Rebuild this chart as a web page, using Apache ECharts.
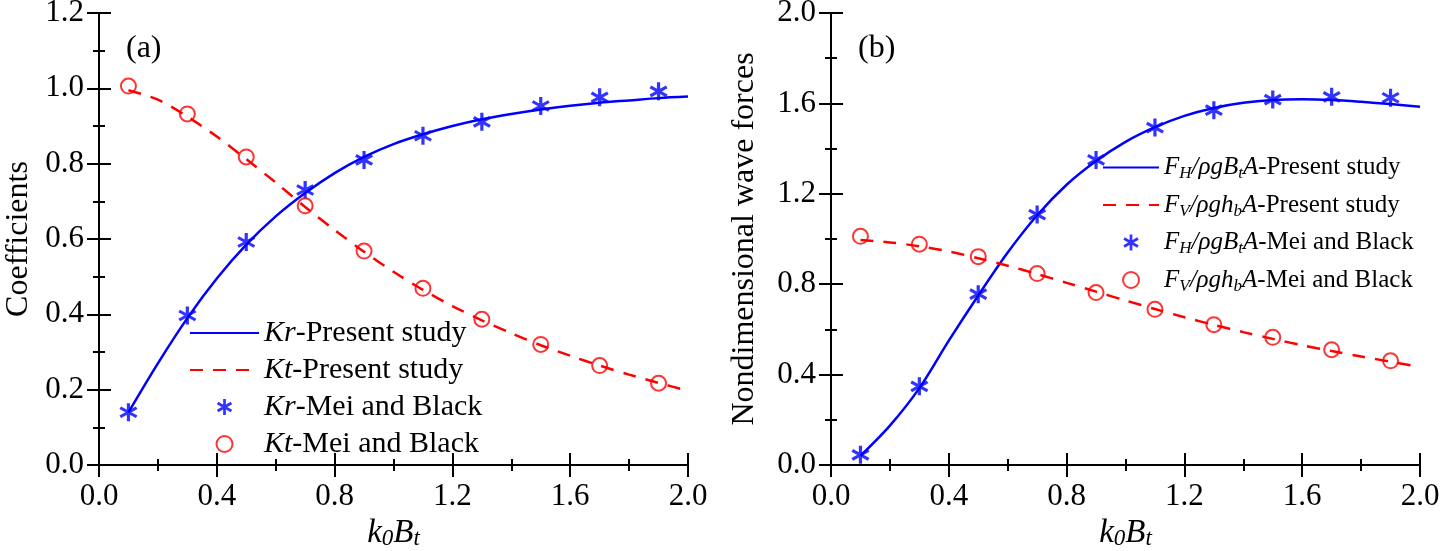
<!DOCTYPE html>
<html>
<head>
<meta charset="utf-8">
<script src="https://cdn.jsdelivr.net/npm/echarts@6/dist/echarts.min.js"></script>
<style>
html,body{margin:0;padding:0;background:#fff;}
#chart{width:1440px;height:551px;}
</style>
</head>
<body>
<div id="chart"></div>
<script>
// ---------- data ----------
const xMarkers = [0.1, 0.3, 0.5, 0.7, 0.9, 1.1, 1.3, 1.5, 1.7, 1.9];
const xCurve = [0.1, 0.2, 0.3, 0.4, 0.5, 0.6, 0.7, 0.8, 0.9, 1.0, 1.1, 1.2, 1.3, 1.4, 1.5, 1.6, 1.7, 1.8, 1.9, 2.0];

// (a) coefficients
const krCurve = [0.14, 0.27, 0.39, 0.495, 0.585, 0.66, 0.722, 0.775, 0.818, 0.852, 0.878, 0.9, 0.918, 0.932, 0.944, 0.954, 0.962, 0.968, 0.974, 0.978];
const ktCurve = [0.995, 0.97, 0.925, 0.872, 0.812, 0.75, 0.685, 0.624, 0.566, 0.513, 0.465, 0.422, 0.384, 0.35, 0.318, 0.29, 0.264, 0.24, 0.218, 0.197];
const krMei = [0.14, 0.397, 0.592, 0.73, 0.81, 0.874, 0.911, 0.953, 0.976, 0.992];
const ktMei = [1.006, 0.932, 0.818, 0.688, 0.568, 0.469, 0.387, 0.32, 0.264, 0.217];

// (b) nondimensional wave forces
const fhCurve = [0.04, 0.174, 0.34, 0.55, 0.75, 0.94, 1.105, 1.24, 1.345, 1.43, 1.495, 1.545, 1.58, 1.603, 1.615, 1.618, 1.615, 1.607, 1.597, 1.585];
const fvCurve = [0.996, 0.985, 0.968, 0.945, 0.915, 0.882, 0.845, 0.806, 0.767, 0.728, 0.69, 0.654, 0.62, 0.588, 0.558, 0.53, 0.504, 0.48, 0.457, 0.434];
const fhMei = [0.045, 0.348, 0.756, 1.108, 1.35, 1.493, 1.57, 1.617, 1.629, 1.625];
const fvMei = [1.012, 0.977, 0.922, 0.847, 0.763, 0.689, 0.621, 0.565, 0.51, 0.461];

const legendA = ['Kr-Present study', 'Kt-Present study', 'Kr-Mei and Black', 'Kt-Mei and Black'];
const legendB = ['FH-Present study', 'FV-Present study', 'FH-Mei and Black', 'FV-Mei and Black'];
const legendRichA = {
  'Kr-Present study': '{i|Kr}{n|-Present study}',
  'Kt-Present study': '{i|Kt}{n|-Present study}',
  'Kr-Mei and Black': '{i|Kr}{n|-Mei and Black}',
  'Kt-Mei and Black': '{i|Kt}{n|-Mei and Black}'
};
const legendRichB = {
  'FH-Present study': '{i|F}{s|H}{i|/ρgB}{s|t}{i|A}{n|-Present study}',
  'FV-Present study': '{i|F}{s|V}{i|/ρgh}{s|b}{i|A}{n|-Present study}',
  'FH-Mei and Black': '{i|F}{s|H}{i|/ρgB}{s|t}{i|A}{n|-Mei and Black}',
  'FV-Mei and Black': '{i|F}{s|V}{i|/ρgh}{s|b}{i|A}{n|-Mei and Black}'
};
const yTitleA = 'Coefficients';
const yTitleB = 'Nondimensional wave forces';

// ---------- helpers ----------
const pairs = (xs, ys) => xs.map((x, i) => [x, ys[i]]);
const FONT = '"Liberation Serif", "Times New Roman", serif';
const BLUE = '#0000ff', RED = '#ff0000';
const STAR = 'path://M-1.7,-10L1.7,-10L1.7,10L-1.7,10Z M7.81,-6.47L9.51,-3.53L-7.81,6.47L-9.51,3.53Z M9.51,3.53L7.81,6.47L-9.51,-3.53L-7.81,-6.47Z';

const axisLine = {show: true, lineStyle: {color: '#000', width: 2}};
const majorTick = {show: true, inside: true, length: 12, lineStyle: {color: '#000', width: 2}};
const minorTickStyle = {show: true, inside: true, length: 6, lineStyle: {color: '#000', width: 2}};
const titleRich = {
  i: {fontFamily: FONT, fontStyle: 'italic', fontSize: 33, lineHeight: 34, color: '#000'},
  s: {fontFamily: FONT, fontStyle: 'italic', fontSize: 23, lineHeight: 12, verticalAlign: 'bottom', color: '#000'}
};
const tickFont = {fontFamily: FONT, fontSize: 31, color: '#000'};

function xAxes(g) {
  const base = {type: 'value', gridIndex: g, min: 0, max: 2, splitLine: {show: false}, offset: 0};
  return [
    Object.assign({}, base, {
      interval: 0.4, position: 'bottom', axisLine, axisTick: majorTick,
      axisLabel: Object.assign({margin: 16, formatter: v => v.toFixed(1)}, tickFont),
      name: '{i|k}{s|0}{i|B}{s|t}', nameLocation: 'middle', nameGap: 40,
      nameTextStyle: {rich: titleRich}
    }),
    Object.assign({}, base, {interval: 0.4, position: 'top', axisLine, axisTick: majorTick, axisLabel: {show: false}})
  ];
}
function xMinorAxes(g, step) {
  const base = {type: 'value', gridIndex: g, min: 0, max: 2, interval: step, splitLine: {show: false}, offset: 0,
    axisLine, axisTick: minorTickStyle, axisLabel: {show: false}};
  return [Object.assign({}, base, {position: 'bottom'}), Object.assign({}, base, {position: 'top'})];
}
function yAxes(g, max, interval, title, gap) {
  const base = {type: 'value', gridIndex: g, min: 0, max: max, splitLine: {show: false}, offset: 0};
  return [
    Object.assign({}, base, {
      interval: interval, position: 'left', axisLine, axisTick: majorTick,
      axisLabel: Object.assign({margin: 15, formatter: v => v.toFixed(1)}, tickFont),
      name: title, nameLocation: 'middle', nameGap: gap,
      nameTextStyle: {fontFamily: FONT, fontSize: 32, color: '#000'}
    }),
    Object.assign({}, base, {interval: interval, position: 'right', axisLine, axisTick: majorTick, axisLabel: {show: false}})
  ];
}
function yMinorAxes(g, max, step) {
  const base = {type: 'value', gridIndex: g, min: 0, max: max, interval: step, splitLine: {show: false}, offset: 0,
    axisLine, axisTick: minorTickStyle, axisLabel: {show: false}};
  return [Object.assign({}, base, {position: 'left'}), Object.assign({}, base, {position: 'right'})];
}
function legendRich(size, sub) {
  return {
    i: {fontFamily: FONT, fontStyle: 'italic', fontSize: size, lineHeight: 30, color: '#000'},
    n: {fontFamily: FONT, fontSize: size, lineHeight: 30, color: '#000'},
    s: {fontFamily: FONT, fontStyle: 'italic', fontSize: sub, lineHeight: 10, verticalAlign: 'bottom', color: '#000'}
  };
}
const legendItems = names => names.map((n, i) => i < 2 ? {name: n, itemStyle: {opacity: 0}} : {name: n});

const gridA = {left: 99, top: 13, width: 589, height: 452, outerBoundsMode: 'none', containLabel: false};
const gridB = {left: 831, top: 13, width: 589, height: 452, outerBoundsMode: 'none', containLabel: false};

const chart = echarts.init(document.getElementById('chart'), null, {renderer: 'canvas'});
chart.setOption({
  backgroundColor: '#fff',
  animation: false,
  grid: [gridA, gridB, Object.assign({}, gridA), Object.assign({}, gridB)],
  xAxis: [...xAxes(0), ...xAxes(1), ...xMinorAxes(2, 0.2), ...xMinorAxes(3, 0.2)],
  yAxis: [...yAxes(0, 1.2, 0.2, yTitleA, 64), ...yAxes(1, 2.0, 0.4, yTitleB, 70), ...yMinorAxes(2, 1.2, 0.1), ...yMinorAxes(3, 2.0, 0.2)],
  legend: [{
    data: legendItems(legendA), orient: 'vertical', left: 189, top: 318, padding: 0, itemWidth: 69, itemHeight: 16, itemGap: 7,
    formatter: n => legendRichA[n], textStyle: {rich: legendRich(30, 20)}
  }, {
    data: legendItems(legendB), orient: 'vertical', left: 1102, top: 155, padding: 0, itemWidth: 56, itemHeight: 16, itemGap: 10,
    formatter: n => legendRichB[n], textStyle: {rich: legendRich(25, 17)}
  }],
  graphic: [
    {type: 'text', left: 126, top: 33, style: {text: '(a)', font: '32px ' + FONT, fill: '#000'}},
    {type: 'text', left: 858, top: 33, style: {text: '(b)', font: '32px ' + FONT, fill: '#000'}}
  ],
  series: [
    {name: 'Kr-Present study', type: 'line', xAxisIndex: 0, yAxisIndex: 0, data: pairs(xCurve, krCurve), smooth: 0.3, symbol: 'none', lineStyle: {color: BLUE, width: 2.5}, itemStyle: {color: BLUE}},
    {name: 'Kt-Present study', type: 'line', xAxisIndex: 0, yAxisIndex: 0, data: pairs(xCurve, ktCurve), smooth: 0.3, symbol: 'none', lineStyle: {color: RED, width: 2.5, type: [13, 10]}, itemStyle: {color: RED}},
    {name: 'Kr-Mei and Black', type: 'scatter', xAxisIndex: 0, yAxisIndex: 0, data: pairs(xMarkers, krMei), symbol: STAR, symbolSize: 18, itemStyle: {color: BLUE}},
    {name: 'Kt-Mei and Black', type: 'scatter', xAxisIndex: 0, yAxisIndex: 0, data: pairs(xMarkers, ktMei), symbol: 'emptyCircle', symbolSize: 15, itemStyle: {color: RED, borderColor: RED, borderWidth: 2}},
    {name: 'FH-Present study', type: 'line', xAxisIndex: 2, yAxisIndex: 2, data: pairs(xCurve, fhCurve), smooth: 0.3, symbol: 'none', lineStyle: {color: BLUE, width: 2.5}, itemStyle: {color: BLUE}},
    {name: 'FV-Present study', type: 'line', xAxisIndex: 2, yAxisIndex: 2, data: pairs(xCurve, fvCurve), smooth: 0.3, symbol: 'none', lineStyle: {color: RED, width: 2.5, type: [13, 10]}, itemStyle: {color: RED}},
    {name: 'FH-Mei and Black', type: 'scatter', xAxisIndex: 2, yAxisIndex: 2, data: pairs(xMarkers, fhMei), symbol: STAR, symbolSize: 18, itemStyle: {color: BLUE}},
    {name: 'FV-Mei and Black', type: 'scatter', xAxisIndex: 2, yAxisIndex: 2, data: pairs(xMarkers, fvMei), symbol: 'emptyCircle', symbolSize: 15, itemStyle: {color: RED, borderColor: RED, borderWidth: 2}}
  ]
});
</script>
</body>
</html>
